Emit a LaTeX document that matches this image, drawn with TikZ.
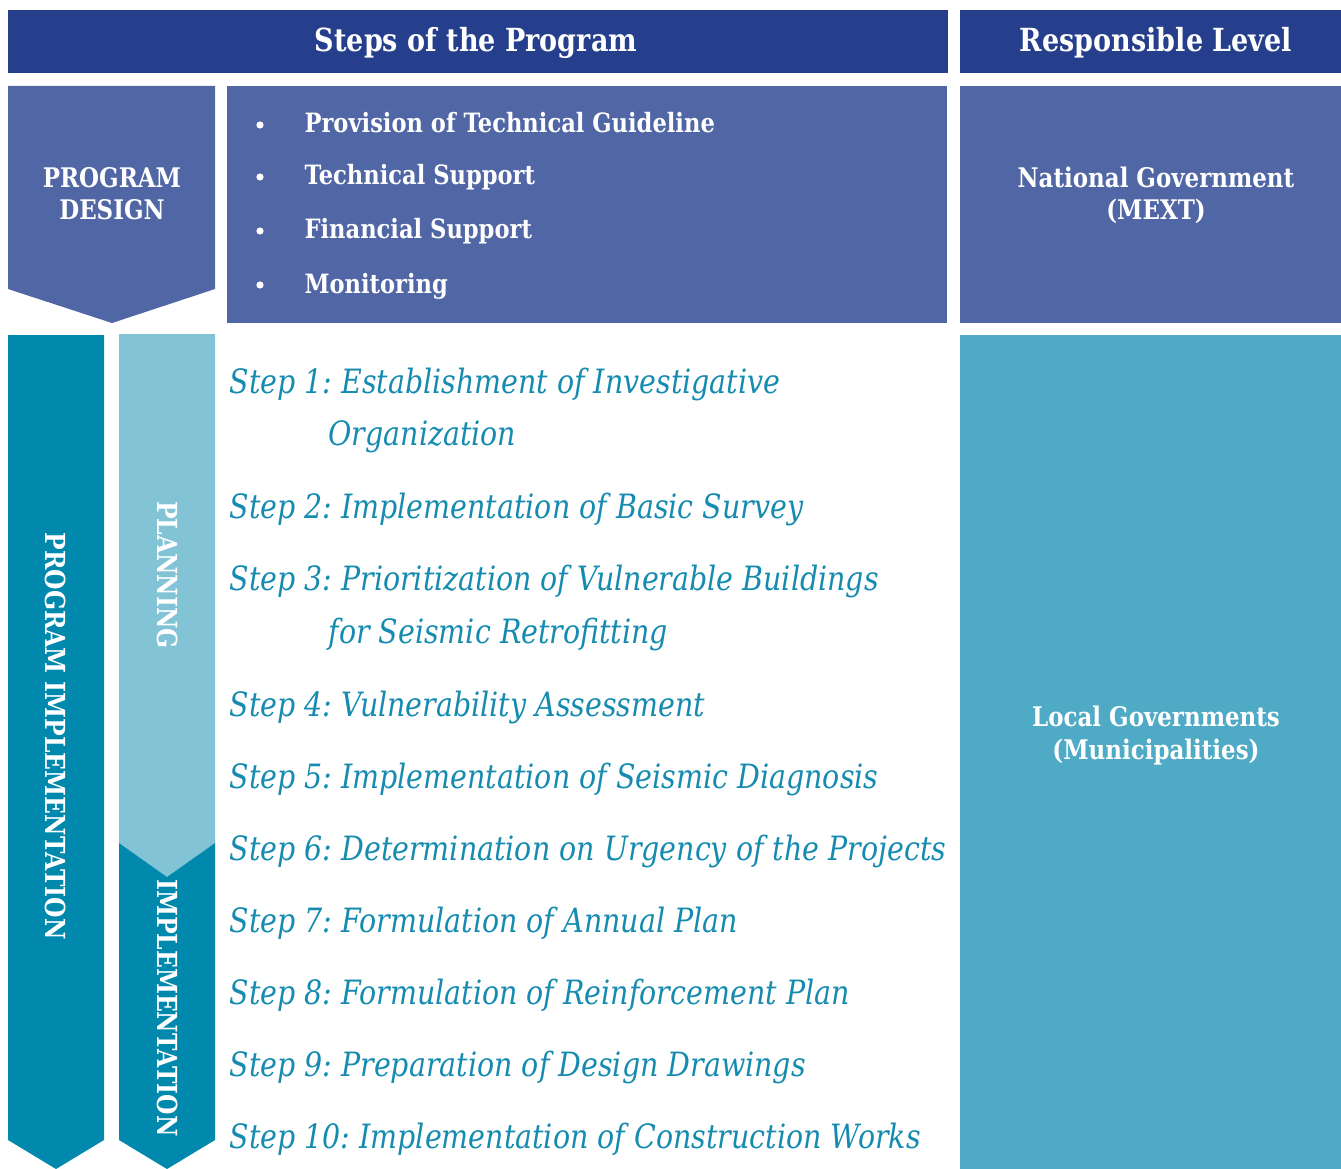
\documentclass[tikz,border=0pt]{standalone}
\usepackage{fontspec}
\setmainfont{DejaVu Serif}[FakeStretch=0.85]
\definecolor{hdr}{RGB}{37,63,141}
\definecolor{dsg}{RGB}{81,102,164}
\definecolor{dteal}{RGB}{0,137,173}
\definecolor{lteal}{RGB}{130,196,214}
\definecolor{local}{RGB}{79,170,198}
\definecolor{steptxt}{RGB}{22,139,176}
\tikzset{
  hdrtext/.style={text=white,font=\bfseries\fontsize{31.8}{36}\selectfont,anchor=base},
  boxtext/.style={text=white,font=\bfseries\fontsize{27}{32.5}\selectfont,align=center,anchor=base},
  bullettext/.style={text=white,font=\bfseries\fontsize{26.6}{32}\selectfont,anchor=base west},
  vtext/.style={text=white,font=\bfseries\fontsize{27.6}{32}\selectfont,rotate=-90,anchor=center},
  steptext/.style={text=steptxt,font=\itshape\fontsize{33.5}{38}\selectfont,anchor=base west},
}
\begin{document}
\frenchspacing
\begin{tikzpicture}[x=1pt,y=-1pt]
\useasboundingbox (0,0) rectangle (1341,1169);
% headers
\fill[hdr] (8,10) rectangle (948,73);
\fill[hdr] (960,10) rectangle (1341,73);
\node[hdrtext] (hsteps) at (476,52) {Steps of the Program};
\node[hdrtext] (hresp) at (1156,52) {Responsible Level};
% design row
\fill[dsg] (8,86) -- (215,86) -- (215,289) -- (112,323) -- (8,289) -- cycle;
\fill[dsg] (227,86) rectangle (947,323);
\fill[dsg] (960,86) rectangle (1341,323);
\node[boxtext] (design) at (112,220) {PROGRAM\\DESIGN};
\node[boxtext] (natl) at (1156,220) {National Government\\(MEXT)};
\foreach \y/\t [count=\i] in {133/Provision of Technical Guideline,185/Technical Support,239/Financial Support,293/Monitoring}{
  \node[bullettext] (bl\i) at (301,\y) {\t};
  \fill[white] (260,\y-8) circle (3.6) coordinate (bd\i);
}
% implementation row
\fill[local] (960,335) rectangle (1341,1169);
\node[boxtext] (loc) at (1156,759) {Local Governments\\(Municipalities)};
\fill[dteal] (8,335) -- (104,335) -- (104,1140) -- (56,1169) -- (8,1140) -- cycle;
\fill[lteal] (119,334) -- (215,334) -- (215,843) -- (167,877) -- (119,843) -- cycle;
\fill[dteal] (119,843) -- (167,877) -- (215,843) -- (215,1140) -- (167,1169) -- (119,1140) -- cycle;
\node[vtext] (pimpl) at (56,736) {PROGRAM IMPLEMENTATION};
\node[vtext] (plan) at (168,575) {PLANNING};
\node[vtext] (impl) at (168,1008) {IMPLEMENTATION};
% steps
\node[steptext] (s1) at (226,393) {Step 1: Establishment of Investigative};
\node[steptext] (s1b) at (325,445) {Organization};
\node[steptext] (s2) at (226,518) {Step 2: Implementation of Basic Survey};
\node[steptext] (s3) at (226,590) {Step 3: Prioritization of Vulnerable Buildings};
\node[steptext] (s3b) at (325,643) {for Seismic Retrofitting};
\node[steptext] (s4) at (226,716) {Step 4: Vulnerability Assessment};
\node[steptext] (s5) at (226,788) {Step 5: Implementation of Seismic Diagnosis};
\node[steptext] (s6) at (226,860) {Step 6: Determination on Urgency of the Projects};
\node[steptext] (s7) at (226,932) {Step 7: Formulation of Annual Plan};
\node[steptext] (s8) at (226,1004) {Step 8: Formulation of Reinforcement Plan};
\node[steptext] (s9) at (226,1076) {Step 9: Preparation of Design Drawings};
\node[steptext] (s10) at (226,1148) {Step 10: Implementation of Construction Works};
\end{tikzpicture}
\end{document}
